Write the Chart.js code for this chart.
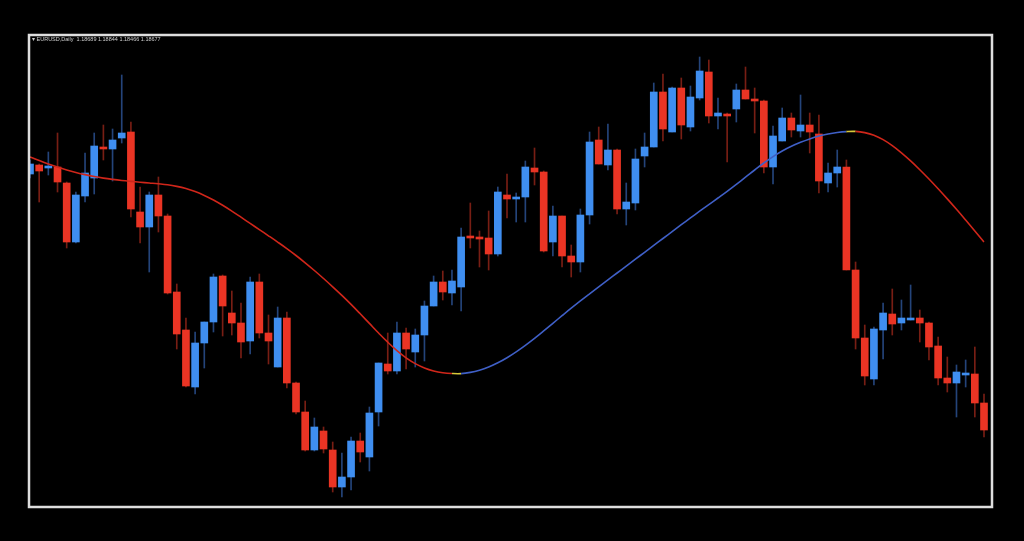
<!DOCTYPE html>
<html>
<head>
<meta charset="utf-8">
<title>EURUSD Daily</title>
<script src="https://cdn.jsdelivr.net/npm/chart.js@4.4.0/dist/chart.umd.min.js"></script>
<style>
    html, body { margin: 0; padding: 0; background: #000; }
    #price-chart { display: block; }
</style>
</head>
<body>
<canvas id="price-chart" width="1024" height="541"></canvas>
<script>
// Daily bars
const open = [
    1.2124, 1.2133, 1.2130, 1.2131, 1.2115, 1.2056, 1.2102, 1.2120, 1.2151, 1.2149,
    1.2160, 1.2166, 1.2086, 1.2071, 1.2103, 1.2082, 1.2006, 1.1968, 1.1911, 1.1955,
    1.1976, 1.2022, 1.1985, 1.1975, 1.1957, 1.2016, 1.1965, 1.1931, 1.1980, 1.1915,
    1.1886, 1.1848, 1.1867, 1.1848, 1.1811, 1.1821, 1.1857, 1.1841, 1.1886, 1.1934,
    1.1927, 1.1965, 1.1946, 1.1963, 1.1992, 1.2016, 1.2005, 1.2011, 1.2062, 1.2061,
    1.2060, 1.2044, 1.2103, 1.2099, 1.2101, 1.2130, 1.2126, 1.2056, 1.2082, 1.2042,
    1.2036, 1.2083, 1.2158, 1.2133, 1.2148, 1.2089, 1.2095, 1.2142, 1.2151, 1.2206,
    1.2166, 1.2210, 1.2171, 1.2200, 1.2226, 1.2182, 1.2184, 1.2189, 1.2208, 1.2199,
    1.2197, 1.2131, 1.2157, 1.2180, 1.2167, 1.2173, 1.2164, 1.2115, 1.2125, 1.2131,
    1.2028, 1.1960, 1.1919, 1.1968, 1.1984, 1.1975, 1.1978, 1.1980, 1.1975, 1.1952,
    1.1920, 1.1915, 1.1923, 1.1924, 1.1895
];
const high = [
    1.2138, 1.2134, 1.2146, 1.2165, 1.2116, 1.2106, 1.2145, 1.2165, 1.2173, 1.2169,
    1.2223, 1.2176, 1.2111, 1.2106, 1.2121, 1.2084, 1.2014, 1.1980, 1.1966, 1.1976,
    1.2024, 1.2023, 1.2007, 1.1995, 1.2021, 1.2024, 1.1983, 1.1991, 1.1986, 1.1916,
    1.1897, 1.1880, 1.1871, 1.1856, 1.1845, 1.1861, 1.1865, 1.1891, 1.1935, 1.1965,
    1.1976, 1.1970, 1.1969, 1.1997, 1.2022, 1.2027, 1.2028, 1.2070, 1.2095, 1.2067,
    1.2087, 1.2111, 1.2124, 1.2105, 1.2137, 1.2150, 1.2127, 1.2092, 1.2082, 1.2053,
    1.2089, 1.2166, 1.2171, 1.2174, 1.2149, 1.2115, 1.2149, 1.2165, 1.2215, 1.2224,
    1.2211, 1.2220, 1.2212, 1.2241, 1.2238, 1.2200, 1.2185, 1.2214, 1.2231, 1.2210,
    1.2198, 1.2172, 1.2190, 1.2185, 1.2203, 1.2185, 1.2183, 1.2135, 1.2148, 1.2138,
    1.2036, 1.1973, 1.1971, 1.1995, 1.2009, 1.1998, 1.2013, 1.1988, 1.1976, 1.1961,
    1.1941, 1.1933, 1.1938, 1.1951, 1.1904
];
const low = [
    1.2120, 1.2096, 1.2123, 1.2106, 1.2050, 1.2055, 1.2096, 1.2104, 1.2138, 1.2117,
    1.2155, 1.2081, 1.2055, 1.2026, 1.2066, 1.2004, 1.1949, 1.1911, 1.1904, 1.1930,
    1.1966, 1.1962, 1.1963, 1.1940, 1.1944, 1.1960, 1.1934, 1.1931, 1.1910, 1.1884,
    1.1847, 1.1847, 1.1845, 1.1806, 1.1801, 1.1808, 1.1836, 1.1827, 1.1872, 1.1924,
    1.1924, 1.1929, 1.1931, 1.1937, 1.1992, 1.1998, 1.1993, 1.1987, 1.2050, 1.2031,
    1.2028, 1.2042, 1.2080, 1.2076, 1.2076, 1.2113, 1.2046, 1.2042, 1.2031, 1.2021,
    1.2026, 1.2074, 1.2134, 1.2128, 1.2084, 1.2073, 1.2088, 1.2131, 1.2151, 1.2157,
    1.2166, 1.2159, 1.2167, 1.2198, 1.2175, 1.2169, 1.2136, 1.2176, 1.2199, 1.2165,
    1.2125, 1.2114, 1.2157, 1.2161, 1.2161, 1.2145, 1.2105, 1.2106, 1.2111, 1.2028,
    1.1949, 1.1913, 1.1913, 1.1939, 1.1963, 1.1968, 1.1978, 1.1956, 1.1938, 1.1913,
    1.1906, 1.1881, 1.1911, 1.1881, 1.1861
];
const close = [
    1.2134, 1.2127, 1.2132, 1.2116, 1.2056, 1.2103, 1.2125, 1.2152, 1.2149, 1.2158,
    1.2165, 1.2089, 1.2071, 1.2103, 1.2082, 1.2005, 1.1964, 1.1912, 1.1955, 1.1976,
    1.2021, 1.1992, 1.1975, 1.1956, 1.2016, 1.1965, 1.1957, 1.1980, 1.1915, 1.1886,
    1.1848, 1.1871, 1.1849, 1.1811, 1.1821, 1.1857, 1.1846, 1.1885, 1.1935, 1.1927,
    1.1965, 1.1949, 1.1963, 1.1992, 1.2016, 1.2006, 1.2017, 1.2061, 1.2060, 1.2059,
    1.2044, 1.2106, 1.2099, 1.2101, 1.2131, 1.2126, 1.2047, 1.2082, 1.2042, 1.2036,
    1.2083, 1.2156, 1.2134, 1.2148, 1.2089, 1.2096, 1.2139, 1.2151, 1.2206, 1.2169,
    1.2210, 1.2173, 1.2201, 1.2227, 1.2182, 1.2185, 1.2182, 1.2208, 1.2199, 1.2197,
    1.2131, 1.2162, 1.2180, 1.2168, 1.2173, 1.2166, 1.2117, 1.2125, 1.2131, 1.2028,
    1.1960, 1.1922, 1.1969, 1.1985, 1.1974, 1.1980, 1.1979, 1.1975, 1.1951, 1.1920,
    1.1915, 1.1926, 1.1924, 1.1895, 1.1868
];

// Smoothed moving average drawn over the bars
const ma = [
    1.21410, 1.21374, 1.21340, 1.21309, 1.21281, 1.21256, 1.21234, 1.21215, 1.21199, 1.21186,
    1.21175, 1.21166, 1.21158, 1.21150, 1.21142, 1.21132, 1.21116, 1.21094, 1.21064, 1.21026,
    1.20980, 1.20927, 1.20869, 1.20808, 1.20746, 1.20684, 1.20622, 1.20559, 1.20494, 1.20425,
    1.20352, 1.20275, 1.20195, 1.20112, 1.20026, 1.19936, 1.19842, 1.19746, 1.19650, 1.19558,
    1.19474, 1.19402, 1.19344, 1.19301, 1.19271, 1.19253, 1.19245, 1.19244, 1.19256, 1.19278,
    1.19310, 1.19352, 1.19403, 1.19462, 1.19527, 1.19597, 1.19671, 1.19747, 1.19823, 1.19898,
    1.19971, 1.20042, 1.20112, 1.20181, 1.20250, 1.20319, 1.20388, 1.20457, 1.20526, 1.20595,
    1.20664, 1.20733, 1.20801, 1.20868, 1.20934, 1.21000, 1.21067, 1.21137, 1.21208, 1.21280,
    1.21350, 1.21414, 1.21470, 1.21517, 1.21557, 1.21591, 1.21619, 1.21640, 1.21655, 1.21664,
    1.21666, 1.21654, 1.21628, 1.21584, 1.21524, 1.21452, 1.21371, 1.21283, 1.21190, 1.21092,
    1.20991, 1.20887, 1.20780, 1.20671, 1.20560
];
// bars where the average turns (drawn yellow)
const turnPoints = [46, 89];

const headerText = '\u25BE EURUSD,Daily  1.18689 1.18844 1.18466 1.18677';

const labels = open.map((_, i) => 'D' + (i + 1));

// Colours
const BULL = '#3f8ef0';
const BEAR = '#ea3424';
const BULL_WICK = '#24447a';
const BEAR_WICK = '#781e14';
const MA_UP = '#3f5fc6';
const MA_DOWN = '#d0261a';
const MA_TURN = '#d8c83a';

const isBull = open.map((o, i) => close[i] >= o);

const priceChartEl = document.getElementById('price-chart').getContext('2d');

const frame = {
    id: 'frame',
    afterDraw(chart) {
        const ctx = chart.ctx;
        ctx.save();
        ctx.strokeStyle = '#dedede';
        ctx.lineWidth = 2.5;
        ctx.strokeRect(29, 35, 963, 472);
        ctx.fillStyle = '#cfcfcf';
        ctx.font = '5.5px "Liberation Sans", Arial, sans-serif';
        ctx.textBaseline = 'middle';
        ctx.fillText(headerText, 32, 39);
        ctx.restore();
    }
};

const config = {
    type: 'bar',
    data: {
        labels: labels,
        datasets: [
            {
                type: 'line',
                label: 'MA',
                data: ma,
                borderWidth: 1.6,
                pointRadius: 0,
                tension: 0.4,
                borderColor: MA_DOWN,
                segment: {
                    borderColor: ctx => {
                        if (turnPoints.includes(ctx.p0DataIndex)) return MA_TURN;
                        return ctx.p1.parsed.y > ctx.p0.parsed.y ? MA_UP : MA_DOWN;
                    }
                },
                order: 0,
            },
            {
                label: 'Body',
                data: open.map((o, i) => [o, close[i]]),
                backgroundColor: isBull.map(b => b ? BULL : BEAR),
                barThickness: 7,
                minBarLength: 2,
                grouped: false,
                clip: { left: 0, top: false, right: false, bottom: false },
                order: 1,
            },
            {
                label: 'Wick',
                data: low.map((l, i) => [l, high[i]]),
                backgroundColor: isBull.map(b => b ? BULL_WICK : BEAR_WICK),
                barThickness: 1,
                grouped: false,
                clip: { left: 0, top: false, right: false, bottom: false },
                order: 2,
            }
        ]
    },
    options: {
        responsive: false,
        animation: false,
        layout: {
            padding: { left: 30, right: 40, top: 36, bottom: 35 }
        },
        plugins: {
            legend: { display: false },
            tooltip: { enabled: false },
        },
        scales: {
            x: {
                display: false,
                offset: false,
            },
            y: {
                display: false,
                min: 1.1792,
                max: 1.2262,
            }
        }
    },
    plugins: [frame]
};

new Chart(priceChartEl, config);
</script>
</body>
</html>
